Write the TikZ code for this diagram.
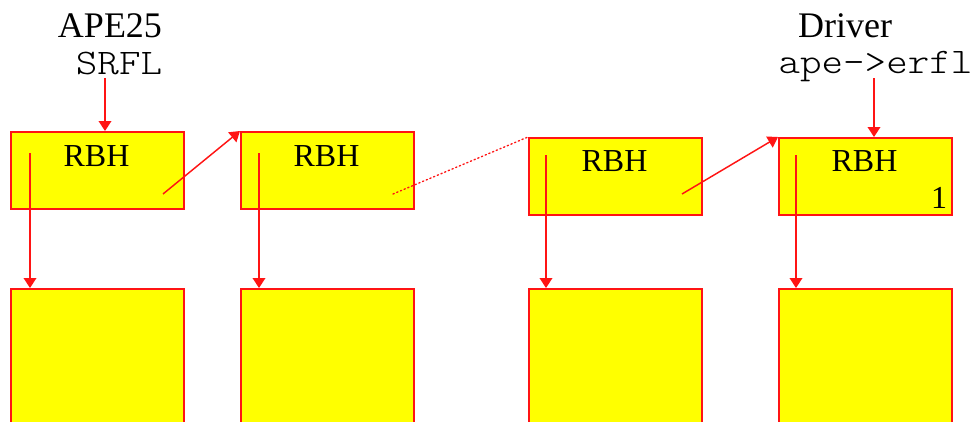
\documentclass[tikz,border=0pt]{standalone}
\usepackage{fontspec}
\setmainfont{Liberation Serif}
\setmonofont[FakeStretch=1.14]{Latin Modern Mono Light}
\usetikzlibrary{arrows.meta}
\definecolor{boxred}{RGB}{255,20,20}
\definecolor{boxyellow}{RGB}{255,255,0}
\tikzset{
  rbox/.style={draw=boxred, fill=boxyellow, line width=1.4pt, inner sep=0pt, anchor=north west},
  link/.style={draw=boxred, line width=1.1pt, -{Triangle[length=7.5pt,width=9.5pt]}},
  dotlink/.style={draw=boxred, line width=1pt, dotted, line cap=round},
  big/.style={font=\fontsize{27}{27}\selectfont, inner sep=0pt, anchor=base},
  bigmono/.style={font=\ttfamily\fontsize{27}{27}\selectfont, inner sep=0pt, anchor=base},
  rbh/.style={font=\fontsize{24}{24}\selectfont, inner sep=0pt, anchor=base},
}
\begin{document}
\begin{tikzpicture}[x=0.75pt,y=-0.75pt]
\clip (0,0) rectangle (977,421);
\fill[white] (0,0) rectangle (977,421);
% top boxes
\node[rbox, minimum width=173*0.75pt, minimum height=77*0.75pt] (t1) at (10,131) {};
\node[rbox, minimum width=173*0.75pt, minimum height=77*0.75pt] (t2) at (240,131) {};
\node[rbox, minimum width=173*0.75pt, minimum height=77*0.75pt] (t3) at (528,137) {};
\node[rbox, minimum width=173*0.75pt, minimum height=77*0.75pt] (t4) at (778,137) {};
% bottom boxes
\node[rbox, minimum width=173*0.75pt, minimum height=160*0.75pt] (b1) at (10,288) {};
\node[rbox, minimum width=173*0.75pt, minimum height=160*0.75pt] (b2) at (240,288) {};
\node[rbox, minimum width=173*0.75pt, minimum height=160*0.75pt] (b3) at (528,288) {};
\node[rbox, minimum width=173*0.75pt, minimum height=160*0.75pt] (b4) at (778,288) {};
% labels
\node[rbh] (r1) at (96.5,166) {RBH};
\node[rbh] (r2) at (326.5,166) {RBH};
\node[rbh] (r3) at (614.5,171) {RBH};
\node[rbh] (r4) at (864.5,171) {RBH};
\node[rbh] (one) at (939,208) {1};
\node[big] (ape) at (110,37) {APE25};
\node[bigmono] (srfl) at (119,74) {SRFL};
\node[big] (drv) at (845,37) {Driver};
\node[bigmono] (erfl) at (875.5,73) {ape->erfl};
% coordinates
\coordinate (srflend) at (105,78);
\coordinate (erflend) at (874,78);
\coordinate (v1) at (30,153);
\coordinate (v2) at (259,153);
\coordinate (v3) at (546,155);
\coordinate (v4) at (796,155);
\coordinate (d1) at (163,194);
\coordinate (d3) at (682,194);
\coordinate (dot2) at (393,194);
% connectors
\draw[link] (srflend) -- (srflend |- t1.north);
\draw[link] (erflend) -- (erflend |- t4.north);
\draw[link] (v1) -- (v1 |- b1.north);
\draw[link] (v2) -- (v2 |- b2.north);
\draw[link] (v3) -- (v3 |- b3.north);
\draw[link] (v4) -- (v4 |- b4.north);
\draw[link] (d1) -- (t2.north west);
\draw[link] (d3) -- (t4.north west);
\draw[dotlink] (dot2) -- (t3.north west);
\end{tikzpicture}
\end{document}
